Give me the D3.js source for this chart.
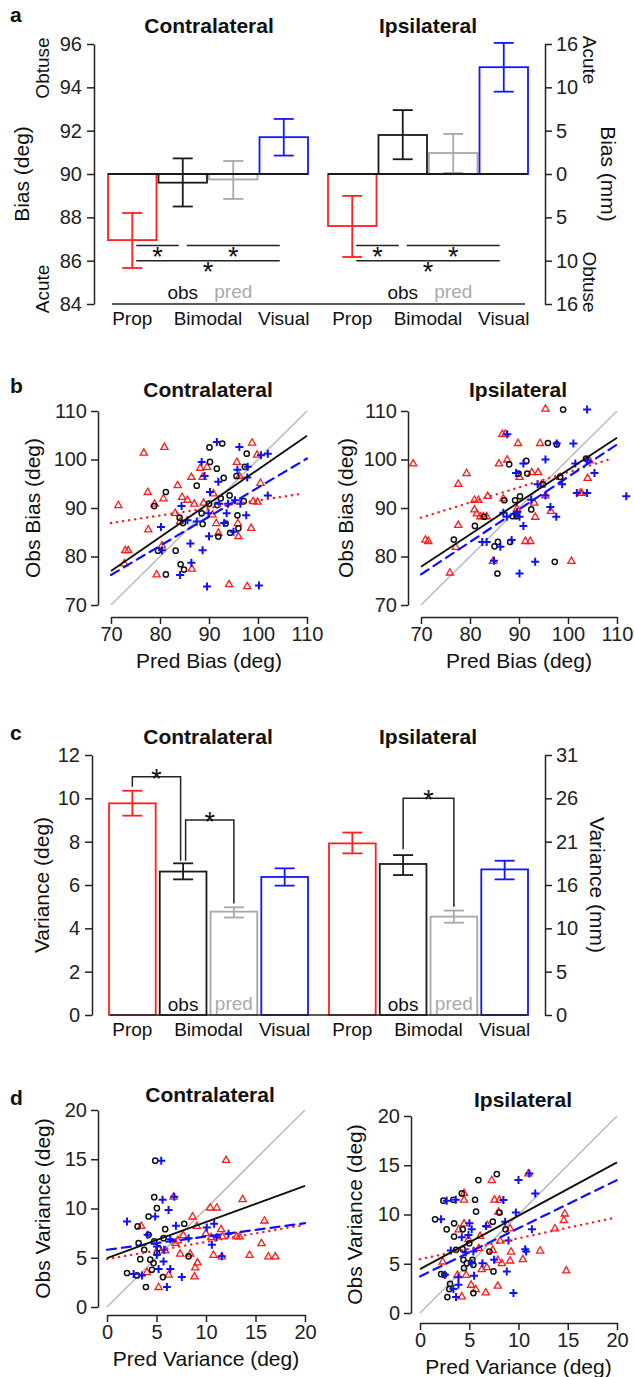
<!DOCTYPE html>
<html>
<head>
<meta charset="utf-8">
<script src="https://cdn.jsdelivr.net/npm/d3@7"></script>
<style>
  body { margin: 0; background: #fff; }
  svg { display: block; font-family: "Liberation Sans", Arial, sans-serif; }
</style>
</head>
<body>
<svg id="fig" width="634" height="1377"></svg>
<script>
// ---- bar data (panels a and c) ----
var barCats = ["Prop", "obs", "pred", "Visual"];

var biasContraMean = [86.95, 89.6, 89.75, 91.7];
var biasContraLo   = [85.66, 88.5, 88.85, 90.85];
var biasContraHi   = [88.2, 90.72, 90.6, 92.54];
var biasIpsiMean   = [87.6, 91.8, 90.97, 94.93];
var biasIpsiLo     = [86.17, 90.68, 90.05, 93.8];
var biasIpsiHi     = [88.99, 92.95, 91.85, 96.05];
var biasTicks      = [84, 86, 88, 90, 92, 94, 96];
var biasMmLabels   = ["16", "10", "5", "0", "5", "10", "16"]; // for 84..96
// significance lines: [from, to, level]
var biasSig = [[0, 1, 86.7], [1, 3, 86.7], [0, 3, 86.0]];

var varContraMean = [9.77, 6.62, 4.77, 6.37];
var varContraLo   = [9.2, 6.26, 4.5, 5.97];
var varContraHi   = [10.35, 7.0, 4.97, 6.77];
var varIpsiMean   = [7.92, 6.97, 4.54, 6.72];
var varIpsiLo     = [7.46, 6.46, 4.26, 6.26];
var varIpsiHi     = [8.42, 7.38, 4.82, 7.12];
var varTicks      = [0, 2, 4, 6, 8, 10, 12];
var varMmLabels   = ["0", "5", "10", "16", "21", "26", "31"]; // for 0..12
// brackets: [from, to, top, leftLeg, rightLeg]
var varContraSig = [[0, 1, 11.0, 10.54, 7.12], [1, 2, 9.0, 7.12, 5.15]];
var varIpsiSig   = [[1, 2, 10.0, 7.65, 5.0]];

// ---- scatter data (panels b and d): red triangles, black circles, blue plus ----
var bContraRed = [[71.5,90.6],[76.7,101.4],[80.9,102.6],[77.5,93.3],[78.9,90.9],[77.6,85.6],[72.9,81.3],[73.5,81.3],[72.7,78.6],[79.3,76.3],[80.4,82.3],[80.7,92.0],[83.6,94.7],[83.1,89.0],[84.5,92.3],[84.1,87.3],[86.4,96.4],[85.6,91.7],[86.5,77.5],[87.0,90.9],[88.2,98.3],[88.7,96.4],[89.6,98.5],[88.9,91.1],[90.7,88.7],[90.9,93.0],[91.5,86.9],[91.9,84.9],[94.1,74.3],[95.7,99.5],[95.9,86.9],[96.0,84.2],[96.2,96.6],[97.8,73.9],[98.6,85.9],[98.8,103.5],[99.0,91.4],[99.8,101.0],[100.5,95.2],[99.9,91.3]];
var bContraBlack = [[78.8,90.4],[79.6,81.2],[81.2,93.3],[81.2,76.3],[83.2,81.2],[84.0,88.0],[84.2,78.4],[84.7,86.9],[84.9,77.3],[87.5,94.6],[88.5,88.9],[88.7,86.7],[90.1,102.5],[90.2,99.5],[91.6,98.1],[91.7,90.6],[92.7,103.3],[92.4,92.0],[93.0,96.2],[93.4,86.8],[94.2,92.6],[94.3,84.9],[95.6,96.6],[95.8,88.5],[96.0,85.8],[97.1,91.4],[97.7,101.2],[97.3,98.5],[90.0,90.9],[91.9,84.1]];
var bContraBlue = [[80.2,86.1],[80.4,81.3],[84.1,76.2],[84.4,90.4],[85.6,87.5],[86.2,82.7],[86.4,78.7],[87.5,87.2],[88.5,99.5],[88.7,81.3],[89.1,96.6],[89.9,88.9],[90.0,84.2],[90.2,93.3],[91.6,103.6],[91.9,95.4],[92.1,90.9],[93.1,86.9],[93.6,88.9],[95.0,85.1],[95.3,91.6],[95.8,97.9],[96.2,102.6],[96.4,90.9],[97.6,88.5],[97.9,98.5],[97.8,96.3],[89.6,73.8],[100.2,74.0],[100.6,100.9],[102.0,101.2],[102.0,92.6],[93.9,90.9]];

var bIpsiRed = [[68.4,99.2],[70.9,83.5],[71.5,83.2],[75.9,76.7],[77.1,82.0],[77.6,86.5],[77.6,95.0],[79.3,97.2],[80.9,91.7],[81.7,91.7],[80.9,89.7],[81.4,88.9],[82.1,88.3],[82.7,88.3],[83.4,88.3],[83.6,92.5],[85.9,99.2],[84.7,79.1],[86.6,105.3],[87.2,105.3],[87.6,100.0],[86.8,92.0],[89.8,103.4],[90.1,96.4],[89.6,89.9],[91.3,83.2],[92.3,83.2],[92.6,97.4],[93.9,97.4],[93.1,91.1],[93.3,88.2],[94.3,103.4],[95.4,110.5],[95.4,92.6],[96.5,89.4],[98.4,96.4],[100.7,79.1],[102.5,93.1],[102.8,93.1],[104.0,96.2],[104.4,99.8],[94.6,94.9]];
var bIpsiBlack = [[76.7,83.5],[81.0,86.3],[82.9,88.2],[85.0,82.1],[85.7,83.0],[85.6,76.5],[87.0,91.6],[88.0,99.0],[88.7,88.3],[89.2,91.6],[88.2,83.0],[89.9,97.1],[90.2,92.4],[91.5,99.7],[91.7,97.1],[92.5,89.7],[94.9,94.9],[95.9,103.4],[97.7,103.1],[97.3,78.9],[99.0,110.3],[98.4,96.4],[103.7,100.2],[89.5,88.3]];
var bIpsiBlue = [[82.5,83.0],[83.4,83.0],[84.9,79.1],[86.2,82.0],[86.8,89.0],[87.6,105.2],[87.5,88.2],[88.5,83.4],[89.4,97.2],[89.6,89.2],[90.1,88.2],[90.1,76.5],[90.9,86.3],[90.9,99.2],[92.5,91.7],[93.3,78.9],[93.8,94.9],[95.4,100.0],[95.4,92.6],[96.4,90.2],[97.6,88.2],[97.7,103.3],[98.8,94.9],[101.1,103.3],[101.5,99.2],[101.8,93.1],[103.9,99.8],[103.9,93.1],[103.9,110.3],[105.4,97.2],[111.9,92.4]];

var dContraRed = [[3.46,8.24],[4.03,3.55],[5.21,2.03],[6.22,3.28],[5.88,5.74],[6.72,11.2],[7.16,6.76],[7.39,5.41],[8.40,5.41],[8.64,9.19],[9.08,8.24],[9.14,4.53],[8.91,4.02],[8.84,3.11],[9.98,7.5],[10.42,10.1],[11.09,10.1],[10.52,7.09],[10.76,5.3],[11.53,7.9],[11.66,7.16],[11.60,5.14],[12.03,14.93],[13.1,7.16],[13.4,7.16],[13.7,10.95],[14.4,5.3],[15.6,6.49],[15.9,8.78],[16.3,5.14],[17.0,5.14],[6.9,6.5],[7.7,7.3]];
var dContraBlack = [[2.02,3.45],[3.03,3.21],[3.09,8.18],[3.19,6.49],[3.36,4.86],[3.76,5.81],[3.93,2.03],[4.2,9.19],[4.2,7.33],[4.37,4.80],[4.54,3.78],[4.77,11.15],[4.87,14.86],[5.04,10.03],[5.21,5.98],[4.7,4.46],[5.65,3.04],[5.88,7.9],[5.71,6.99],[7.8,8.45],[8.24,5.14],[4.77,6.66],[5.04,5.47]];
var dContraBlue = [[2.02,8.68],[2.69,3.34],[3.53,3.21],[4.1,7.33],[4.87,9.19],[5.48,14.86],[5.61,10.88],[6.22,9.86],[5.04,6.15],[5.04,5.30],[5.78,5.81],[5.71,4.63],[5.21,3.85],[6.39,3.85],[6.05,2.03],[6.96,8.24],[7.56,3.04],[6.39,6.89],[8.24,6.99],[10.08,8.07],[10.59,6.32],[10.82,8.45],[11.60,5.14],[12.27,7.43],[11.09,7.09],[6.79,11.2]];

var dIpsiRed = [[2.31,5.23],[3.8,3.88],[4.24,1.69],[4.47,12.2],[4.47,11.5],[4.47,9.1],[3.93,8.5],[4.68,3.88],[4.92,7.49],[5.19,2.87],[5.66,2.43],[6.1,7.82],[5.97,6.58],[6.27,4.45],[6.68,2.09],[6.85,8.94],[7.29,13.5],[7.39,6.41],[6.78,4.65],[7.56,11.5],[8.07,11.5],[8.14,7.35],[7.97,10.3],[7.9,5.4],[8.31,5.06],[7.9,2.77],[9.15,8.6],[9.25,6.24],[9.15,5.33],[10.44,5.46],[11.0,14.17],[12.2,6.34],[13.7,8.6],[14.6,9.44],[14.7,10.1],[14.85,4.32]];
var dIpsiBlack = [[1.53,9.51],[2.37,11.4],[3.39,11.5],[2.71,8.5],[2.14,3.95],[2.47,3.88],[2.78,1.62],[2.98,2.43],[3.05,2.97],[3.46,9.1],[3.46,7.76],[3.66,6.41],[4.24,12.14],[4.34,8.5],[4.34,6.48],[4.41,5.4],[4.47,4.55],[4.75,5.06],[5.0,7.08],[5.32,5.4],[5.42,4.89],[5.42,2.02],[5.59,11.5],[5.69,10.3],[5.93,13.5],[7.8,14.1],[7.39,9.27],[7.05,6.24],[7.46,4.22],[8.07,10.2],[8.68,8.5]];
var dIpsiBlue = [[2.14,9.51],[2.71,11.4],[3.63,11.5],[2.54,3.88],[3.12,6.34],[3.39,2.43],[3.66,1.62],[3.9,2.87],[3.9,3.64],[4.24,7.69],[4.64,6.14],[4.92,7.93],[5.02,9.1],[5.25,8.5],[5.42,6.24],[5.49,3.78],[5.25,5.06],[6.34,5.06],[6.71,8.84],[7.53,5.4],[8.47,11.47],[8.81,4.22],[8.98,7.35],[8.64,9.27],[9.49,2.02],[9.73,10.2],[10.0,13.5],[10.68,6.48],[10.78,6.24],[11.1,14.17],[11.7,12.14],[11.36,8.5]];

// regression fits, order: red, black, blue
var bContraIntercept = [76.05, 28.18, 34.2],  bContraSlope = [0.155, 0.6975, 0.6];
var bIpsiIntercept   = [66.13, 31.35, 29.4],  bIpsiSlope   = [0.3125, 0.665, 0.67];
var dContraIntercept = [4.86, 4.97, 5.81],    dContraSlope = [0.174, 0.3665, 0.135];
var dIpsiIntercept   = [5.46, 4.45, 3.71],    dIpsiSlope   = [0.213, 0.5425, 0.4895];
var bFitEnd = [109, 110, 110];
var dFitEnd = [19.5, 20, 20];
var biasScatterTicks = [70, 80, 90, 100, 110];
var varScatterTicks  = [0, 5, 10, 15, 20];

var svg = d3.select("#fig");
var barColours = ["#ff2020", "#1a1a1a", "#a8a8a8", "#1515ff"];

function text(g, x, y, s, size, opts) {
	opts = opts || {};
	var t = g.append("text")
		.attr("x", x).attr("y", y)
		.attr("font-size", size)
		.attr("text-anchor", opts.anchor || "middle")
		.attr("fill", opts.fill || "#111")
		.text(s);
	if (opts.bold) t.attr("font-weight", "bold");
	if (opts.rot) {
		t.attr("x", 0).attr("y", 0).attr("dy", "0.35em")
		 .attr("transform", "translate(" + x + "," + y + ") rotate(" + opts.rot + ")");
	}
	return t;
}

function styleAxis(g, size) {
	g.attr("font-family", null).attr("font-size", size);
	g.selectAll("path, line").attr("stroke", "#222").attr("stroke-width", 1.5);
	g.selectAll("text").attr("fill", "#222");
}

function bars(g, x, y, base, mean, lo, hi) {
	barCats.forEach(function (c, i) {
		var top = Math.min(y(base), y(mean[i])), h = Math.abs(y(base) - y(mean[i]));
		g.append("rect")
			.attr("x", x(c)).attr("y", top)
			.attr("width", x.bandwidth()).attr("height", h)
			.attr("fill", "none").attr("stroke", barColours[i]).attr("stroke-width", 1.8);
		var cx = x(c) + x.bandwidth() / 2;
		var eb = g.append("g").attr("stroke", barColours[i]).attr("stroke-width", 1.8);
		eb.append("line").attr("x1", cx).attr("x2", cx).attr("y1", y(lo[i])).attr("y2", y(hi[i]));
		eb.append("line").attr("x1", cx - 10).attr("x2", cx + 10).attr("y1", y(lo[i])).attr("y2", y(lo[i]));
		eb.append("line").attr("x1", cx - 10).attr("x2", cx + 10).attr("y1", y(hi[i])).attr("y2", y(hi[i]));
	});
}

function centre(x, i) { return x(barCats[i]) + x.bandwidth() / 2; }

// ================= panel a =================
var yA = d3.scaleLinear().domain([84, 96]).range([304, 44]);
var xAc = d3.scaleBand().domain(barCats).range([108, 308]).paddingInner(0.04);
var xAi = d3.scaleBand().domain(barCats).range([328, 528]).paddingInner(0.04);
var gA = svg.append("g");

[[xAc, biasContraMean, biasContraLo, biasContraHi], [xAi, biasIpsiMean, biasIpsiLo, biasIpsiHi]].forEach(function (p) {
	var x = p[0];
	bars(gA, x, yA, 90, p[1], p[2], p[3]);
	gA.append("line")
		.attr("x1", x("Prop")).attr("x2", x("Visual") + x.bandwidth())
		.attr("y1", yA(90)).attr("y2", yA(90))
		.attr("stroke", "#1a1a1a").attr("stroke-width", 1.8);
	biasSig.forEach(function (s) {
		var x1 = centre(x, s[0]) + 4, x2 = centre(x, s[1]) - 4;
		gA.append("line").attr("x1", x1).attr("x2", x2)
			.attr("y1", yA(s[2])).attr("y2", yA(s[2]))
			.attr("stroke", "#222").attr("stroke-width", 1.5);
		text(gA, (x1 + x2) / 2, yA(s[2]) + 20, "*", 27);
	});
	text(gA, centre(x, 1), yA(84) - 5, "obs", 19);
	text(gA, centre(x, 2), yA(84) - 6, "pred", 19, { fill: "#aaa" });
	text(gA, centre(x, 0), 325, "Prop", 19);
	text(gA, (centre(x, 1) + centre(x, 2)) / 2, 325, "Bimodal", 19);
	text(gA, centre(x, 3), 325, "Visual", 19);
});
gA.append("line").attr("x1", 112).attr("x2", 525).attr("y1", yA(84)).attr("y2", yA(84))
	.attr("stroke", "#222").attr("stroke-width", 1.5);

var axAL = gA.append("g").attr("transform", "translate(94,0)")
	.call(d3.axisLeft(yA).tickValues(biasTicks).tickSize(7).tickSizeOuter(0).tickPadding(5));
styleAxis(axAL, 20);
var axAR = gA.append("g").attr("transform", "translate(545,0)")
	.call(d3.axisRight(yA).tickValues(biasTicks).tickSize(7).tickSizeOuter(0).tickPadding(4)
		.tickFormat(function (d, i) { return biasMmLabels[i]; }));
styleAxis(axAR, 20);

text(gA, 10, 22, "a", 21, { anchor: "start", bold: true });
text(gA, 209, 33, "Contralateral", 21, { bold: true });
text(gA, 428, 33, "Ipsilateral", 21, { bold: true });
text(gA, 22, 174, "Bias (deg)", 21, { rot: -90 });
text(gA, 42, 68, "Obtuse", 19, { rot: -90 });
text(gA, 42, 289, "Acute", 19, { rot: -90 });
text(gA, 608, 174, "Bias (mm)", 21, { rot: 90 });
text(gA, 590, 60, "Acute", 19, { rot: 90 });
text(gA, 590, 282, "Obtuse", 19, { rot: 90 });

// ================= panel c =================
var yC = d3.scaleLinear().domain([0, 12]).range([1015, 755]);
var xCc = d3.scaleBand().domain(barCats).range([109, 308]).paddingInner(0.08);
var xCi = d3.scaleBand().domain(barCats).range([329, 528]).paddingInner(0.08);
var gC = svg.append("g");

[[xCc, varContraMean, varContraLo, varContraHi, varContraSig], [xCi, varIpsiMean, varIpsiLo, varIpsiHi, varIpsiSig]].forEach(function (p) {
	var x = p[0];
	bars(gC, x, yC, 0, p[1], p[2], p[3]);
	var sig = p[4];
	sig.forEach(function (s, k) {
		var x1 = centre(x, s[0]), x2 = centre(x, s[1]);
		if (sig.length > 1) { if (k === 0) x2 -= 2.5; else x1 += 2.5; }
		gC.append("path")
			.attr("d", d3.line()([[x1, yC(s[3])], [x1, yC(s[2])], [x2, yC(s[2])], [x2, yC(s[4])]]))
			.attr("fill", "none").attr("stroke", "#222").attr("stroke-width", 1.5);
		text(gC, (x1 + x2) / 2, yC(s[2]) + 11, "*", 27);
	});
	text(gC, centre(x, 1), yC(0) - 4, "obs", 19);
	text(gC, centre(x, 2), yC(0) - 5, "pred", 19, { fill: "#aaa" });
	text(gC, centre(x, 0), 1036, "Prop", 19);
	text(gC, (centre(x, 1) + centre(x, 2)) / 2, 1036, "Bimodal", 19);
	text(gC, centre(x, 3), 1036, "Visual", 19);
});
gC.append("line").attr("x1", 110).attr("x2", 527).attr("y1", yC(0)).attr("y2", yC(0))
	.attr("stroke", "#222").attr("stroke-width", 1.5);

var axCL = gC.append("g").attr("transform", "translate(92,0)")
	.call(d3.axisLeft(yC).tickValues(varTicks).tickSize(7).tickSizeOuter(0).tickPadding(5));
styleAxis(axCL, 20);
var axCR = gC.append("g").attr("transform", "translate(545,0)")
	.call(d3.axisRight(yC).tickValues(varTicks).tickSize(7).tickSizeOuter(0).tickPadding(4)
		.tickFormat(function (d, i) { return varMmLabels[i]; }));
styleAxis(axCR, 20);

text(gC, 10, 740, "c", 21, { anchor: "start", bold: true });
text(gC, 208, 744, "Contralateral", 21, { bold: true });
text(gC, 428, 744, "Ipsilateral", 21, { bold: true });
text(gC, 42, 885, "Variance (deg)", 21, { rot: -90 });
text(gC, 597, 885, "Variance (mm)", 21, { rot: 90 });

// ================= scatter panels =================
function scatter(o) {
	var g = svg.append("g");
	var x = d3.scaleLinear().domain(o.dom).range(o.xr);
	var y = d3.scaleLinear().domain(o.dom).range(o.yr);

	var ax = g.append("g").attr("transform", "translate(0," + o.axisY + ")")
		.call(d3.axisBottom(x).tickValues(o.ticks).tickSize(7).tickSizeOuter(0).tickPadding(3));
	styleAxis(ax, 20);
	var ay = g.append("g").attr("transform", "translate(" + o.axisX + ",0)")
		.call(d3.axisLeft(y).tickValues(o.ticks).tickSize(7).tickSizeOuter(0).tickPadding(4));
	styleAxis(ay, 20);

	// identity line
	g.append("line")
		.attr("x1", x(o.dom[0])).attr("y1", y(o.dom[0]))
		.attr("x2", x(o.dom[1])).attr("y2", y(o.dom[1]))
		.attr("stroke", "#bdbdbd").attr("stroke-width", 1.6);

	g.selectAll(".tri").data(o.red).enter().append("path")
		.attr("transform", function (d) { return "translate(" + x(d[0]) + "," + y(d[1]) + ")"; })
		.attr("d", "M0,-3.8L3.6,2.5L-3.6,2.5Z")
		.attr("fill", "none").attr("stroke", "#ff1a1a").attr("stroke-width", 1.3);
	g.selectAll(".circ").data(o.black).enter().append("circle")
		.attr("cx", function (d) { return x(d[0]); })
		.attr("cy", function (d) { return y(d[1]); })
		.attr("r", 2.6)
		.attr("fill", "none").attr("stroke", "#111").attr("stroke-width", 1.5);
	g.selectAll(".plus").data(o.blue).enter().append("path")
		.attr("transform", function (d) { return "translate(" + x(d[0]) + "," + y(d[1]) + ")"; })
		.attr("d", "M-4,0H4M0,-4V4")
		.attr("fill", "none").attr("stroke", "#1010ff").attr("stroke-width", 2);

	var styles = [
		{ c: "#ff1a1a", w: 2.4, dash: "0.1,6" },
		{ c: "#111", w: 1.9, dash: null },
		{ c: "#1010ff", w: 2.2, dash: "9,6" }
	];
	[0, 2, 1].forEach(function (i) {
		var x0 = o.dom[0], x1 = o.fitEnd[i];
		var l = g.append("line")
			.attr("x1", x(x0)).attr("y1", y(o.icpt[i] + o.slope[i] * x0))
			.attr("x2", x(x1)).attr("y2", y(o.icpt[i] + o.slope[i] * x1))
			.attr("stroke", styles[i].c).attr("stroke-width", styles[i].w);
		if (styles[i].dash) l.attr("stroke-dasharray", styles[i].dash).attr("stroke-linecap", "round");
	});

	text(g, (o.xr[0] + o.xr[1]) / 2, o.axisY + 51, o.xlab, 21);
	text(g, o.ylabX, (o.yr[0] + o.yr[1]) / 2, o.ylab, 21, { rot: -90 });
	text(g, o.titleX, o.titleY, o.title, 21, { bold: true });
	if (o.letter) text(g, 10, o.letterY, o.letter, 21, { anchor: "start", bold: true });
}

scatter({ dom: [70, 110], xr: [111, 307], yr: [605, 411], axisX: 98, axisY: 617, ticks: biasScatterTicks,
	red: bContraRed, black: bContraBlack, blue: bContraBlue,
	icpt: bContraIntercept, slope: bContraSlope, fitEnd: bFitEnd,
	xlab: "Pred Bias (deg)", ylab: "Obs Bias (deg)", ylabX: 33,
	title: "Contralateral", titleX: 208, titleY: 397, letter: "b", letterY: 393 });
scatter({ dom: [70, 110], xr: [421, 617], yr: [605, 411], axisX: 408, axisY: 617, ticks: biasScatterTicks,
	red: bIpsiRed, black: bIpsiBlack, blue: bIpsiBlue,
	icpt: bIpsiIntercept, slope: bIpsiSlope, fitEnd: bFitEnd,
	xlab: "Pred Bias (deg)", ylab: "Obs Bias (deg)", ylabX: 346,
	title: "Ipsilateral", titleX: 518, titleY: 397 });
scatter({ dom: [0, 20], xr: [107, 305], yr: [1307, 1110], axisX: 98, axisY: 1315, ticks: varScatterTicks,
	red: dContraRed, black: dContraBlack, blue: dContraBlue,
	icpt: dContraIntercept, slope: dContraSlope, fitEnd: dFitEnd,
	xlab: "Pred Variance (deg)", ylab: "Obs Variance (deg)", ylabX: 43,
	title: "Contralateral", titleX: 210, titleY: 1102, letter: "d", letterY: 1105 });
scatter({ dom: [0, 20], xr: [420, 617], yr: [1313, 1116], axisX: 411, axisY: 1323, ticks: varScatterTicks,
	red: dIpsiRed, black: dIpsiBlack, blue: dIpsiBlue,
	icpt: dIpsiIntercept, slope: dIpsiSlope, fitEnd: dFitEnd,
	xlab: "Pred Variance (deg)", ylab: "Obs Variance (deg)", ylabX: 355,
	title: "Ipsilateral", titleX: 523, titleY: 1107 });
</script>
</body>
</html>
